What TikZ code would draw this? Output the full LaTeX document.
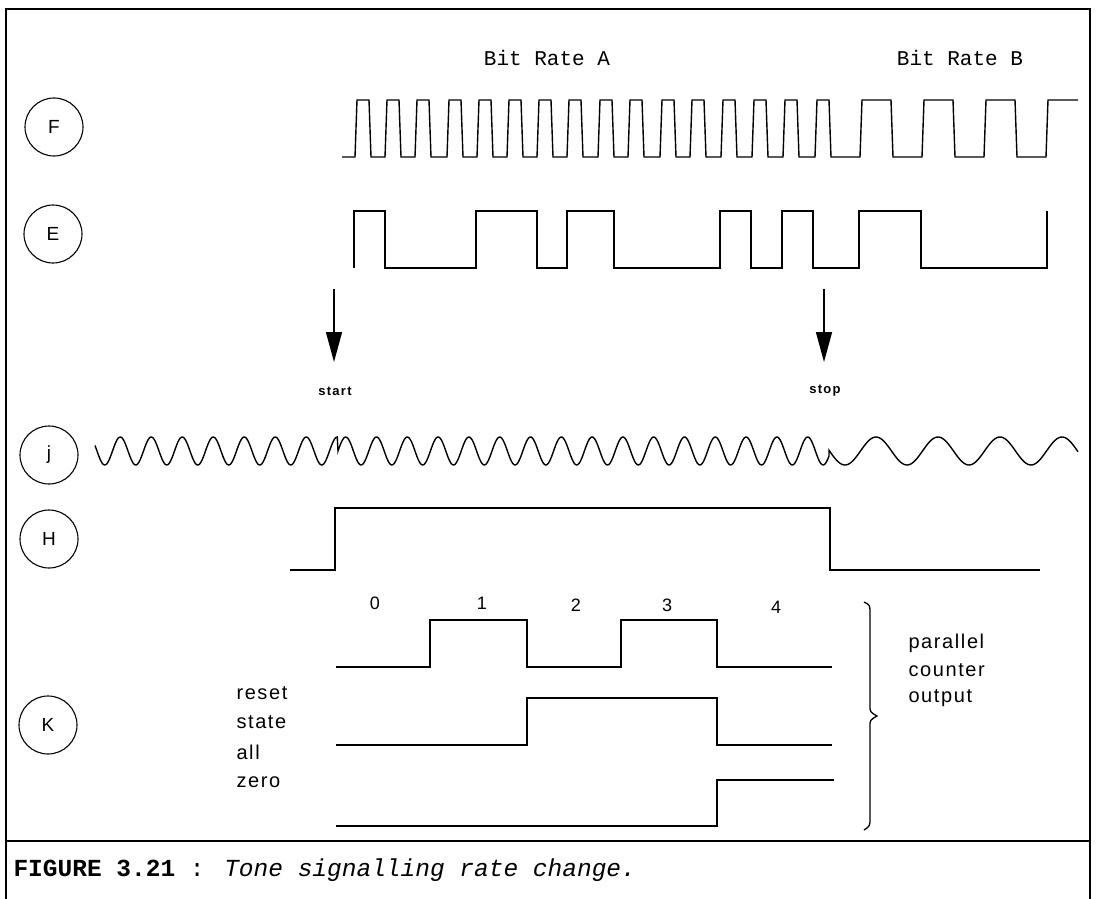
\documentclass[tikz,border=0pt]{standalone}
\usepackage{fontspec}
\setmainfont{Liberation Sans}
\newfontfamily\monof{Liberation Mono}
\newfontfamily\spacedf[LetterSpace=8]{Liberation Sans}
\newfontfamily\markf[LetterSpace=10]{Liberation Sans}
\usetikzlibrary{arrows.meta}
\begin{document}
\begin{tikzpicture}[x=1pt,y=-1pt,line join=miter,
  wave/.style={line width=1.4pt},
  frame/.style={line width=2.5pt},
  sig/.style={circle,draw,line width=1.1pt,minimum size=58pt,inner sep=0pt,font=\fontsize{19}{19}\selectfont},
  title/.style={font=\monof\fontsize{21}{21}\selectfont},
  marker/.style={line width=1.5pt,-{Triangle[length=30pt,width=16pt]}},
  marklbl/.style={font=\markf\bfseries\fontsize{13}{13}\selectfont},
  countlbl/.style={font=\fontsize{18}{18}\selectfont},
  sidelbl/.style={anchor=west,font=\spacedf\fontsize{20}{20}\selectfont}]
\useasboundingbox (0,0) rectangle (1096,899);
% frame
\draw[frame] (6,899) -- (6,9) -- (1090,9) -- (1090,899);
\draw[frame] (6,841) -- (1090,841);
% titles
\node[title] (bra) at (547,58) {Bit Rate A};
\node[title] (brb) at (960,58) {Bit Rate B};
% signal circles
\node[sig] (cF) at (54,127) {F};
\node[sig] (cE) at (53,234) {E};
\node[sig] (cj) at (49,455) {j};
\node[sig] (cH) at (49,539) {H};
\node[sig] (cK) at (48,725) {K};
% F waveform
\draw[wave] (342,157)
  \foreach \r in {355,385,415,447,477,507,537,567,598,628,660,690,721,752,783,815} {
    -- (\r,157) -- (\r+2,100) -- (\r+14,100) -- (\r+16,157) }
  -- (860,157) -- (862,100) -- (891,100) -- (893,157)
  -- (922,157) -- (924,100) -- (953,100) -- (955,157)
  -- (984,157) -- (986,100) -- (1015,100) -- (1017,157)
  -- (1046,157) -- (1048,100) -- (1078,100);
% E waveform
\draw[wave] (354,268) -- (354,211) -- (385,211) -- (385,268) -- (476,268) -- (476,211)
  -- (537,211) -- (537,268) -- (567,268) -- (567,211) -- (614,211) -- (614,268)
  -- (720,268) -- (720,211) -- (751,211) -- (751,268) -- (782,268) -- (782,211)
  -- (813,211) -- (813,268) -- (859,268) -- (859,211) -- (921,211) -- (921,268)
  -- (1047,268) -- (1047,211);
% start / stop markers
\coordinate (sa) at (334,289);
\coordinate (sb) at (334,362);
\coordinate (ta) at (824,289);
\coordinate (tb) at (824,362);
\draw[marker] (sa) -- (sb);
\draw[marker] (ta) -- (tb);
\node[marklbl] (lstart) at (335,391) {start};
\node[marklbl] (lstop) at (825,391) {stop};
% j waveform
\draw[wave] plot[domain=95:337.25,samples=200] (\x,{451+14*sin(11.6129*(\x-97))})
  -- plot[domain=338:829,samples=400] (\x,{451-14*sin(11.6883*(\x-338))})
  -- plot[domain=829:1078,samples=160] (\x,{451+14*cos(5.80645*(\x-845))});
% H waveform
\draw[wave] (290,570) -- (335,570) -- (335,508) -- (830,508) -- (830,570) -- (1040,570);
% K counter outputs
\node[countlbl] (n0) at (375,603) {0};
\node[countlbl] (n1) at (482,603) {1};
\node[countlbl] (n2) at (576,605) {2};
\node[countlbl] (n3) at (667,605) {3};
\node[countlbl] (n4) at (776,607) {4};
\draw[wave] (336,667) -- (430,667) -- (430,620) -- (527,620) -- (527,667) -- (621,667)
  -- (621,620) -- (717,620) -- (717,667) -- (832,667);
\draw[wave] (336,745) -- (527,745) -- (527,698) -- (717,698) -- (717,745) -- (832,745);
\draw[wave] (336,826) -- (717,826) -- (717,780) -- (834,780);
\node[sidelbl] (lr) at (233,693) {reset};
\node[sidelbl] (ls) at (233,722) {state};
\node[sidelbl] (la) at (233,752) {all};
\node[sidelbl] (lz) at (233,782) {zero};
% brace
\draw[line width=1.3pt] (864,602) .. controls (870,605) .. (870,614) -- (870,705)
  .. controls (870,712) .. (877,716) .. controls (870,720) .. (870,727) -- (870,818)
  .. controls (870,826) .. (864,830);
\node[sidelbl] (lp) at (905,643) {parallel};
\node[sidelbl] (lc) at (905,670) {counter};
\node[sidelbl] (lo) at (905,698) {output};
% caption
\node[anchor=west,font=\monof\fontsize{24.5}{24.5}\selectfont] (cap) at (10,870)
  {\textbf{FIGURE 3.21} : \textit{Tone signalling rate change.}};
\end{tikzpicture}
\end{document}
